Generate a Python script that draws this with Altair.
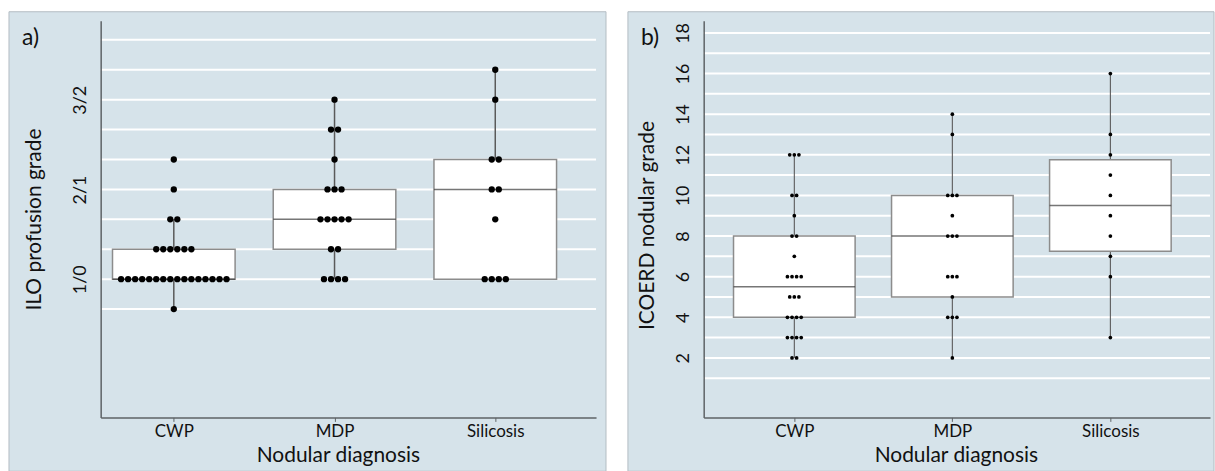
import altair as alt
import pandas as pd

# Diagnostic groups on the x axis
categories = ["CWP", "MDP", "Silicosis"]

# ILO profusion grades coded on the 12-point scale
# (0/1=1, 1/0=2, 1/1=3, 1/2=4, 2/1=5, 2/2=6, 2/3=7, 3/2=8, 3/3=9, 3/+=10)
ilo_cwp = [1, 2, 2, 2, 2, 2, 2, 2, 2, 2, 2, 2, 2, 2, 2, 2, 2,
           3, 3, 3, 3, 3, 3, 4, 4, 5, 6]
ilo_mdp = [2, 2, 2, 2, 3, 3, 4, 4, 4, 4, 4, 5, 5, 5, 6, 7, 7, 8]
ilo_sil = [2, 2, 2, 2, 4, 5, 5, 6, 6, 8, 9]
ilo_tick_values = [2, 5, 8]
ilo_tick_labels = ["1/0", "2/1", "3/2"]
ilo_grid = [1, 2, 3, 4, 5, 6, 7, 8, 9, 10]

# ICOERD nodular grades
icoerd_cwp = [2, 2, 3, 3, 3, 3, 4, 4, 4, 4, 5, 5, 5, 6, 6, 6, 6, 7, 8, 8, 9,
              10, 10, 12, 12, 12]
icoerd_mdp = [2, 4, 4, 4, 5, 6, 6, 6, 8, 8, 8, 9, 10, 10, 10, 13, 14]
icoerd_sil = [3, 6, 7, 8, 9, 10, 11, 12, 13, 16]
icoerd_tick_values = [2, 4, 6, 8, 10, 12, 14, 16, 18]
icoerd_grid = [1, 2, 3, 4, 5, 6, 7, 8, 9, 10, 11, 12, 13, 14, 15, 16, 17, 18]

FONT = "Lato"
BG = "#d6e3ea"
BORDER = "#b4bdc3"
AXIS_COLOR = "#5e6366"


def long_table(groups):
    rows = []
    for i, vals in enumerate(groups):
        for v in vals:
            rows.append({"x": i, "v": v})
    return pd.DataFrame(rows)


def panel(groups, tag, y_title, y_domain, y_ticks, y_label_expr, grid_vals,
          x_domain, w, h, bg_box, tag_xy, y_title_x, y_title_y, x_title_x,
          dot_size, dot_step_px, box_width, rule_width):
    df = long_table(groups)
    px_per_unit = w / (x_domain[1] - x_domain[0])
    step = dot_step_px / px_per_unit

    x_axis = alt.Axis(
        values=[0, 1, 2],
        labelExpr="['CWP', 'MDP', 'Silicosis'][datum.value]",
        title="Nodular diagnosis", grid=False, domainColor=AXIS_COLOR,
        domainWidth=1.5, tickColor=AXIS_COLOR, tickSize=4, labelPadding=2,
        labelFontSize=17, labelFont=FONT, labelColor="#111",
        titleFont=FONT, titleFontSize=21, titleFontWeight="normal",
        titleColor="#111", titleX=x_title_x, titleY=38,
        titleBaseline="middle", titleAlign="center", zindex=1,
    )
    y_axis = alt.Axis(
        values=y_ticks, labelExpr=y_label_expr, title=y_title, grid=False,
        ticks=False, domainColor=AXIS_COLOR, domainWidth=1.5,
        labelAngle=-90, labelAlign="center", labelBaseline="bottom",
        labelPadding=11, labelFontSize=18, labelFont=FONT, labelColor="#111",
        titleFont=FONT, titleFontSize=21, titleFontWeight="normal",
        titleColor="#111", titleX=y_title_x, titleY=y_title_y,
        titleAngle=-90, titleBaseline="middle", titleAlign="center", zindex=1,
    )
    x_scale = alt.Scale(domain=x_domain, nice=False, zero=False)
    y_scale = alt.Scale(domain=y_domain, nice=False, zero=False)
    y_enc = alt.Y("v:Q", scale=y_scale, axis=y_axis)

    bg = alt.Chart(pd.DataFrame({"p": [0]})).mark_rect(
        fill=BG, stroke=BORDER, strokeWidth=1
    ).encode(
        x=alt.value(bg_box[0]), x2=alt.value(bg_box[1]),
        y=alt.value(bg_box[2]), y2=alt.value(bg_box[3]),
    )

    grid = alt.Chart(pd.DataFrame({"v": grid_vals})).mark_rule(
        color="white", strokeWidth=2
    ).encode(y=y_enc, x=alt.value(0), x2=alt.value(w))

    box = alt.Chart(df).mark_boxplot(
        extent=1.5, size=box_width, orient="vertical", outliers=False,
        ticks=False,
        box={"fill": "white", "stroke": "#8c8c8c", "strokeWidth": 1.5},
        median={"color": "#3c3c3c", "thickness": 1.5},
        rule={"color": "#5a5a5a", "strokeWidth": rule_width},
    ).encode(x=alt.X("x:Q", scale=x_scale, axis=x_axis), y=y_enc)

    # Dot plot: equal values in a group are laid side by side, centred on the group
    dots = alt.Chart(df).transform_window(
        rank="row_number()", groupby=["x", "v"]
    ).transform_joinaggregate(
        n="count()", groupby=["x", "v"]
    ).transform_calculate(
        xd=f"datum.x + (datum.rank - (datum.n + 1) / 2) * {step}"
    ).mark_circle(size=dot_size, color="black", opacity=1).encode(
        x=alt.X("xd:Q", scale=x_scale, axis=x_axis), y=y_enc
    )

    label = alt.Chart(pd.DataFrame({"t": [tag]})).mark_text(
        font=FONT, fontSize=23, align="left", baseline="middle", color="#111"
    ).encode(text="t:N", x=alt.value(tag_xy[0]), y=alt.value(tag_xy[1]))

    return alt.layer(bg, grid, box, dots, label).properties(width=w, height=h)


ilo_expr = "[" + ", ".join(
    "'" + (ilo_tick_labels[ilo_tick_values.index(i)] if i in ilo_tick_values else "") + "'"
    for i in range(11)
) + "][datum.value]"

panel_a = panel(
    [ilo_cwp, ilo_mdp, ilo_sil], "a)", "ILO profusion grade",
    y_domain=[-2.62, 10.64], y_ticks=ilo_tick_values, y_label_expr=ilo_expr,
    grid_vals=ilo_grid, x_domain=[-0.424, 2.596], w=497, h=398,
    bg_box=(-92, 507, -9, 452), tag_xy=(-79, 17), y_title_x=-66,
    y_title_y=199, x_title_x=238, dot_size=40, dot_step_px=7.2,
    box_width=123, rule_width=1.5,
)

panel_b = panel(
    [icoerd_cwp, icoerd_mdp, icoerd_sil], "b)", "ICOERD nodular grade",
    y_domain=[-0.93, 18.6], y_ticks=icoerd_tick_values,
    y_label_expr="datum.value", grid_vals=icoerd_grid,
    x_domain=[-0.542, 2.599], w=508, h=398,
    bg_box=(-76, 512, -9, 452), tag_xy=(-63, 17), y_title_x=-56,
    y_title_y=205, x_title_x=253, dot_size=14, dot_step_px=4.7,
    box_width=122, rule_width=1.1,
)

chart = alt.hconcat(panel_a, panel_b, spacing=20).properties(
    padding={"left": 8, "top": 10, "right": 0, "bottom": 0},
    background="white",
).configure_view(strokeWidth=0)

chart.save("out.html", embed_options={"renderer": "svg", "actions": False})
